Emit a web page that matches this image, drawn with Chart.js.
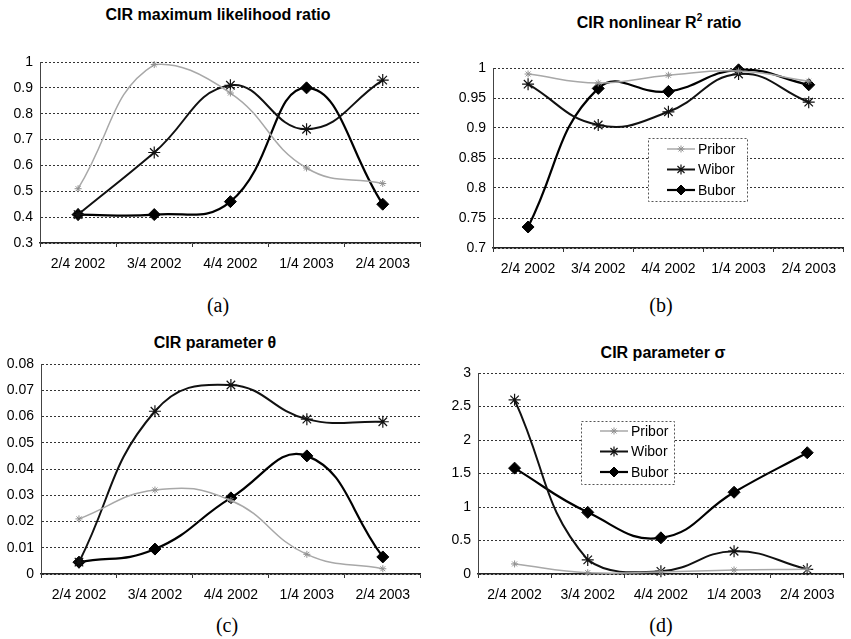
<!DOCTYPE html>
<html>
<head>
<meta charset="utf-8">
<script src="https://cdn.jsdelivr.net/npm/chart.js@4"></script>
<style>
  html, body { margin:0; padding:0; background:#fff; }
  body { width:851px; height:639px; position:relative; overflow:hidden; font-family:"Liberation Sans", Arial, sans-serif; }
  .box { position:absolute; }
  .title { position:absolute; font-weight:bold; font-size:16px; color:#000; transform:translate(-50%,-50%); white-space:nowrap; }
  .cap { position:absolute; font-family:"Liberation Serif","Times New Roman",serif; font-size:20px; color:#000; transform:translate(-50%,-50%); }
</style>
</head>
<body>
<div class="title" style="left:218px; top:15px;">CIR maximum likelihood ratio</div>
<div class="title" style="left:659px; top:22px;">CIR nonlinear R<sup style="font-size:10px;">2</sup> ratio</div>
<div class="title" style="left:215px; top:343px;">CIR parameter θ</div>
<div class="title" style="left:663px; top:353px;">CIR parameter σ</div>
<div class="cap" style="left:218px; top:305px;">(a)</div>
<div class="cap" style="left:661px; top:305px;">(b)</div>
<div class="cap" style="left:227px; top:625px;">(c)</div>
<div class="cap" style="left:661px; top:625px;">(d)</div>

<div class="box" style="left:0px; top:40px; width:428px; height:240px;"><canvas id="ca"></canvas></div>
<div class="box" style="left:440px; top:40px; width:411px; height:245px;"><canvas id="cb"></canvas></div>
<div class="box" style="left:0px; top:330px; width:428px; height:281px;"><canvas id="cc"></canvas></div>
<div class="box" style="left:440px; top:330px; width:411px; height:281px;"><canvas id="cd"></canvas></div>

<script>
// ---- data ----
const categories = ["2/4 2002", "3/4 2002", "4/4 2002", "1/4 2003", "2/4 2003"];
const seriesNames = ["Pribor", "Wibor", "Bubor"];

// (a) CIR maximum likelihood ratio
const mlPribor = [0.51, 0.99, 0.88, 0.59, 0.53];
const mlWibor  = [0.41, 0.65, 0.91, 0.74, 0.93];
const mlBubor  = [0.41, 0.41, 0.46, 0.90, 0.45];
// (b) CIR nonlinear R^2 ratio
const r2Pribor = [0.990, 0.975, 0.988, 0.995, 0.978];
const r2Wibor  = [0.973, 0.905, 0.927, 0.990, 0.943];
const r2Bubor  = [0.735, 0.966, 0.961, 0.997, 0.972];
// (c) CIR parameter theta
const thPribor = [0.021, 0.032, 0.028, 0.0075, 0.002];
const thWibor  = [0.0045, 0.062, 0.072, 0.059, 0.058];
const thBubor  = [0.0045, 0.0095, 0.029, 0.045, 0.0065];
// (d) CIR parameter sigma
const sgPribor = [0.15, 0.02, 0.03, 0.06, 0.07];
const sgWibor  = [2.6, 0.21, 0.04, 0.34, 0.07];
const sgBubor  = [1.58, 0.92, 0.54, 1.22, 1.81];

// ---- styles ----
const FONT = "'Liberation Sans', Arial, sans-serif";
Chart.defaults.font.family = FONT;
Chart.defaults.color = '#000';

function ds(name, data) {
  if (name === 'Pribor') return {label:name, data, borderColor:'#a8a8a8', backgroundColor:'#a8a8a8',
    borderWidth:1.5, pointStyle:'star', pointRadius:3.5, pointBorderWidth:1, pointBorderColor:'#909090', tension:0.45, clip:false};
  if (name === 'Wibor') return {label:name, data, borderColor:'#111', backgroundColor:'#111',
    borderWidth:2, pointStyle:'star', pointRadius:6, pointBorderWidth:1.2, pointBorderColor:'#111', tension:0.45, clip:false};
  return {label:name, data, borderColor:'#000', backgroundColor:'#000',
    borderWidth:2.2, pointStyle:'rectRot', pointRadius:6, pointBorderWidth:1, pointBorderColor:'#000', tension:0.45, clip:false};
}

const boxLegend = {
  id:'boxLegend',
  afterDraw(chart, args, opts) {
    if (!opts || !opts.show) return;
    const ctx = chart.ctx, ca = chart.chartArea;
    const x0 = ca.left + opts.dx, y0 = ca.top + opts.dy;
    ctx.save();
    ctx.fillStyle = '#fff';
    ctx.fillRect(x0, y0, opts.w, opts.h);
    ctx.strokeStyle = '#555'; ctx.lineWidth = 1; ctx.setLineDash([2,2]);
    ctx.strokeRect(x0 + 0.5, y0 + 0.5, opts.w, opts.h);
    ctx.setLineDash([]);
    ctx.font = '14px ' + FONT; ctx.textBaseline = 'middle'; ctx.textAlign = 'left';
    chart.data.datasets.forEach((d, i) => {
      const y = y0 + opts.first + i * opts.step;
      const lx0 = x0 + opts.lineX, lx1 = lx0 + opts.lineW;
      ctx.strokeStyle = d.borderColor; ctx.lineWidth = d.borderWidth;
      ctx.beginPath(); ctx.moveTo(lx0, y); ctx.lineTo(lx1, y); ctx.stroke();
      ctx.fillStyle = d.backgroundColor; ctx.strokeStyle = d.pointBorderColor; ctx.lineWidth = d.pointBorderWidth;
      Chart.helpers.drawPoint(ctx, {pointStyle:d.pointStyle, radius:Math.min(d.pointRadius, 5), rotation:0, borderWidth:d.pointBorderWidth}, (lx0 + lx1) / 2, y);
      ctx.fillStyle = '#000';
      ctx.fillText(d.label, lx1 + 3, y + 1);
    });
    ctx.restore();
  }
};

function makeChart(id, pribor, wibor, bubor, yMin, yMax, yStep, yWidth, pad, legend, decimals) {
  return new Chart(document.getElementById(id), {
    type:'line',
    data:{ labels:categories, datasets:[ds(seriesNames[0], pribor), ds(seriesNames[1], wibor), ds(seriesNames[2], bubor)] },
    plugins:[boxLegend],
    options:{
      responsive:true, maintainAspectRatio:false, animation:false,
      layout:{ padding:pad },
      plugins:{ legend:{display:false}, title:{display:false}, tooltip:{enabled:false}, boxLegend:legend },
      scales:{
        x:{
          offset:true,
          grid:{ offset:true, drawOnChartArea:false, drawTicks:true, tickLength:4, color:'#333' },
          border:{ display:true, color:'#222', width:1.5 },
          ticks:{ font:{size:14}, padding:9, maxRotation:0, autoSkip:false, color:'#000' },
          afterFit(s){ s.height = 37; }
        },
        y:{
          min:yMin, max:yMax,
          grid:{ drawTicks:false, color:'#333', lineWidth:1 },
          border:{ display:true, dash:[2,2], color:'#444' },
          ticks:{ stepSize:yStep, font:{size:14}, padding:7, color:'#000',
                  callback(v){ return +v.toFixed(decimals) + ''; } },
          afterFit(s){ s.width = yWidth; }
        }
      }
    }
  });
}

const ca = makeChart('ca', mlPribor, mlWibor, mlBubor, 0.3, 1, 0.1, 40, {top:22, right:3, bottom:0, left:0}, {show:false}, 1);
const cb = makeChart('cb', r2Pribor, r2Wibor, r2Bubor, 0.7, 1, 0.05, 53, {top:28, right:1, bottom:0, left:0},
  {show:true, dx:155, dy:70, w:99, h:63, first:11, step:20.5, lineX:19, lineW:28}, 2);
const cc = makeChart('cc', thPribor, thWibor, thBubor, 0, 0.08, 0.01, 41, {top:34, right:3, bottom:0, left:0}, {show:false}, 2);
const cd = makeChart('cd', sgPribor, sgWibor, sgBubor, 0, 3, 0.5, 38, {top:43, right:1, bottom:0, left:0},
  {show:true, dx:103, dy:48, w:93, h:63, first:10, step:20.5, lineX:19, lineW:28}, 1);

// dotted gridlines
[ca, cb, cc, cd].forEach(c => {
  c.options.scales.y.grid.borderDash = [2,2];
  c.options.scales.y.grid.tickBorderDash = [2,2];
  c.update('none');
});
</script>
</body>
</html>
